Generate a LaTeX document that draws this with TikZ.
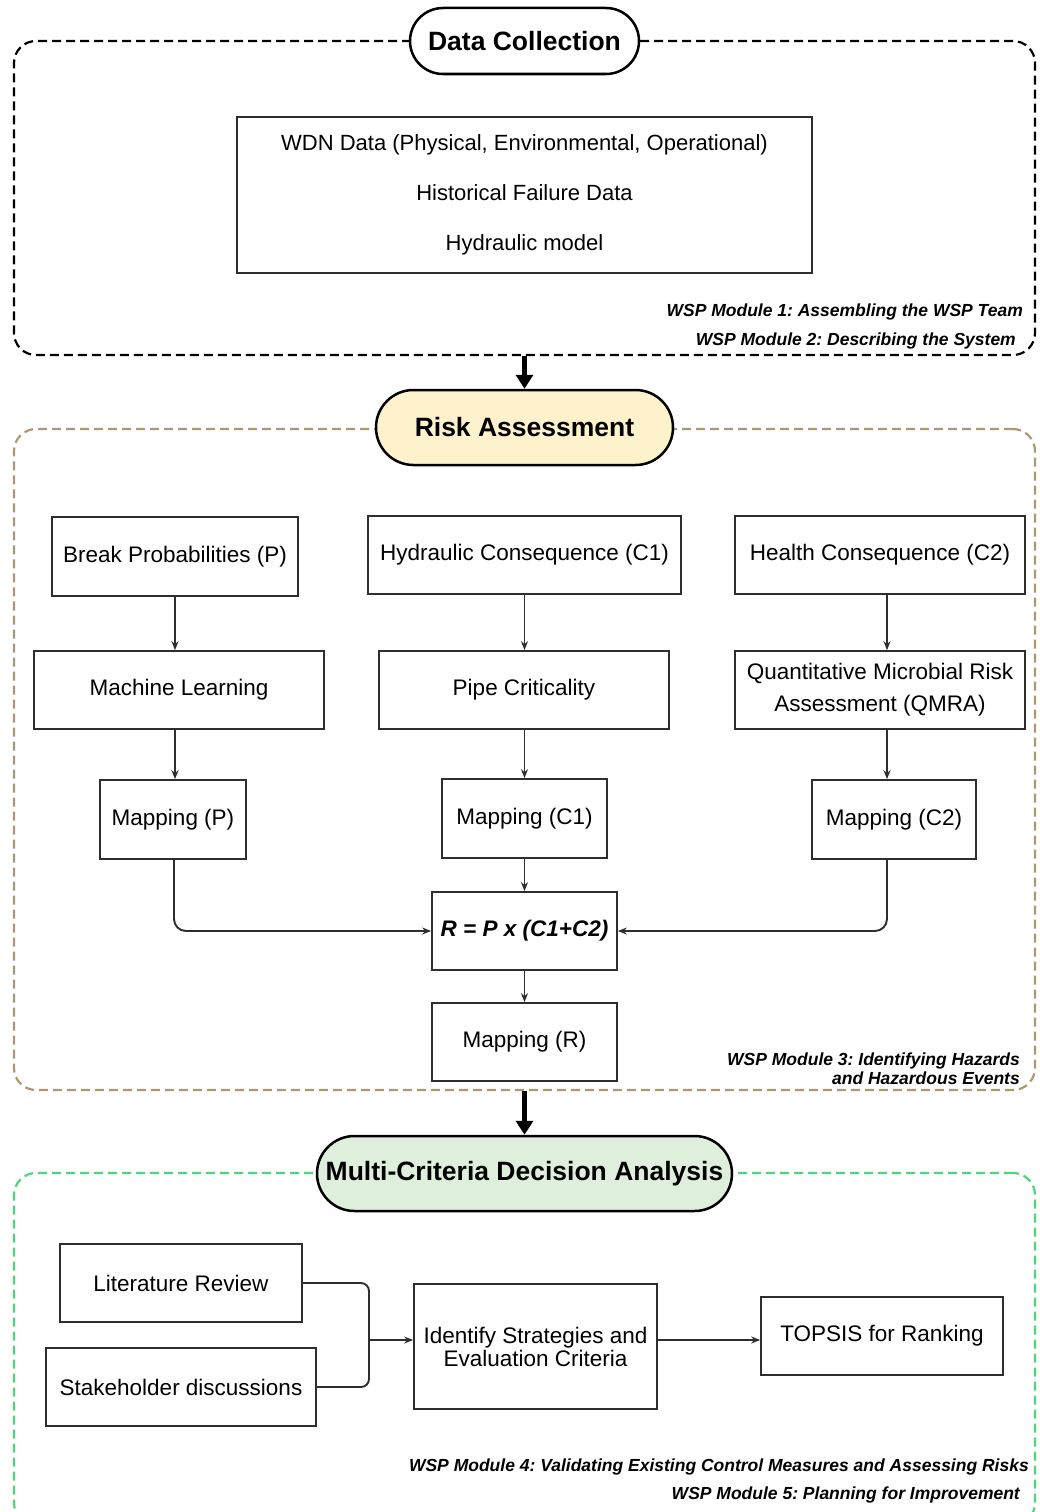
\documentclass[tikz,border=0pt]{standalone}
\usepackage{fontspec}
\setmainfont{Liberation Sans}
\usetikzlibrary{shapes.misc,arrows.meta}
\definecolor{tanc}{HTML}{AE9872}
\definecolor{grn}{HTML}{4DD67A}
\definecolor{cream}{HTML}{FEF2CC}
\definecolor{lgreen}{HTML}{DEF0DC}
\definecolor{boxline}{HTML}{2E2E2E}
\frenchspacing
\begin{document}
\begin{tikzpicture}[x=1pt,y=-1pt,
 box/.style={draw=boxline, line width=1.7pt, fill=white, inner sep=0pt, font=\fontsize{22.5}{26}\selectfont, align=center},
 frame/.style={dash pattern=on 9pt off 5pt, line width=2.2pt, rounded corners=22pt, inner sep=0pt},
 pill/.style={draw=black, line width=2.5pt, rounded rectangle, inner sep=0pt, font=\bfseries\fontsize{26.5}{30}\selectfont},
 arr/.style={-{Stealth[length=9pt,width=7pt]}, line width=1.9pt, draw=boxline},
 bigarr/.style={-{Triangle[length=14pt,width=17pt]}, line width=4.5pt},
 modlbl/.style={font=\bfseries\itshape\fontsize{17.5}{19}\selectfont, anchor=east, inner sep=0pt, align=right}]
\clip (0,0) rectangle (1040,1512);
\fill[white] (0,0) rectangle (1040,1512);

% frames
\node[frame, draw=black, minimum width=1021pt, minimum height=314pt] (f1) at (524.5,198) {};
\node[frame, draw=tanc, minimum width=1021pt, minimum height=661pt] (f2) at (524.5,759.5) {};
\node[frame, draw=grn, minimum width=1021pt, minimum height=352pt] (f3) at (524.5,1349) {};

% titles
\node[pill, fill=white, minimum width=229pt, minimum height=66pt] (dc) at (524.5,41) {Data Collection};
\node[pill, fill=cream, minimum width=297pt, minimum height=75pt] (ra) at (524.5,427.5) {Risk Assessment};
\node[pill, fill=lgreen, minimum width=415pt, minimum height=75pt] (mcda) at (524.5,1173.5) {Multi-Criteria Decision Analysis};

\draw[bigarr] (f1.south) -- (ra.north);
\draw[bigarr] (f2.south) -- (mcda.north);

% data collection
\node[box, minimum width=575pt, minimum height=156pt, font=\fontsize{22}{50}\selectfont] (wdn) at (524.5,195)
 {WDN Data (Physical, Environmental, Operational)\\Historical Failure Data\\Hydraulic model};
\node[modlbl] (m1) at (1023,312) {WSP Module 1: Assembling the WSP Team};
\node[modlbl] (m2) at (1016,341) {WSP Module 2: Describing the System};

% risk assessment
\node[box, minimum width=246pt, minimum height=79pt] (bp) at (175,556.5) {Break Probabilities (P)};
\node[box, minimum width=313pt, minimum height=78pt] (hc) at (524.5,555) {Hydraulic Consequence (C1)};
\node[box, minimum width=290pt, minimum height=78pt] (hec) at (880,555) {Health Consequence (C2)};
\node[box, minimum width=290pt, minimum height=78pt] (ml) at (179,690) {Machine Learning};
\node[box, minimum width=290pt, minimum height=78pt] (pc) at (524,690) {Pipe Criticality};
\node[box, minimum width=290pt, minimum height=78pt, font=\fontsize{22.5}{32}\selectfont] (qm) at (880,690) {Quantitative Microbial Risk\\Assessment (QMRA)};
\node[box, minimum width=146pt, minimum height=79pt] (mp) at (173,819.5) {Mapping (P)};
\node[box, minimum width=165pt, minimum height=79pt] (mc1) at (524.5,818.5) {Mapping (C1)};
\node[box, minimum width=164pt, minimum height=79pt] (mc2) at (894,819.5) {Mapping (C2)};
\node[box, minimum width=185pt, minimum height=78pt, font=\bfseries\itshape\fontsize{22.5}{26}\selectfont] (r) at (524.5,931) {R = P x (C1+C2)};
\node[box, minimum width=185pt, minimum height=78pt] (mr) at (524.5,1042) {Mapping (R)};

\draw[arr] (bp.south) -- (bp.south |- ml.north);
\draw[arr] (ml.south -| bp.south) -- (bp.south |- mp.north);
\draw[arr] (hc.south) -- (hc.south |- pc.north);
\draw[arr] (pc.south -| hc.south) -- (hc.south |- mc1.north);
\draw[arr] ([xshift=7pt]hec.south) -- ([xshift=7pt]hec.south |- qm.north);
\draw[arr] ([xshift=7pt]qm.south) -- ([xshift=7pt]qm.south |- mc2.north);
\draw[arr] (mc1.south) -- (r.north);
\draw[arr] (r.south) -- (mr.north);
\draw[arr, rounded corners=12pt] ([xshift=1pt]mp.south) |- (r.west);
\draw[arr, rounded corners=12pt] ([xshift=-7pt]mc2.south) |- (r.east);
\node[modlbl] (m3) at (1020,1068.5) {WSP Module 3: Identifying Hazards\\and Hazardous Events};

% MCDA
\node[box, minimum width=242pt, minimum height=78pt] (lit) at (181,1283) {Literature Review};
\node[box, minimum width=270pt, minimum height=78pt] (st) at (181,1387) {Stakeholder discussions};
\node[box, minimum width=243pt, minimum height=125pt, font=\fontsize{22.5}{23}\selectfont] (id) at (535.5,1346.5) {Identify Strategies and\\Evaluation Criteria};
\node[box, minimum width=242pt, minimum height=78pt] (tp) at (882,1336) {TOPSIS for Ranking};
\coordinate (j) at (369,1340);
\draw[line width=1.9pt, draw=boxline, rounded corners=8pt] (lit.east) -| (j);
\draw[line width=1.9pt, draw=boxline, rounded corners=8pt] (st.east) -| (j);
\draw[arr] (j) -- (j -| id.west);
\draw[arr] (id.east |- j) -- (tp.west |- j);
\node[modlbl] (m4) at (1029,1467) {WSP Module 4: Validating Existing Control Measures and Assessing Risks};
\node[modlbl] (m5) at (1020,1495) {WSP Module 5: Planning for Improvement};
\end{tikzpicture}
\end{document}
